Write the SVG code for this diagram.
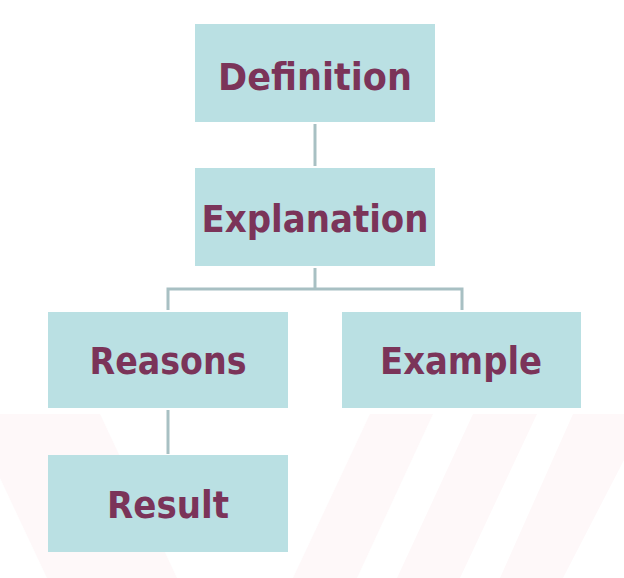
<svg xmlns="http://www.w3.org/2000/svg" width="624" height="578" viewBox="0 0 624 578">
<style>
.bg{fill:#fef8f9}
.box{fill:#bae0e3}
.lbl{font-family:"DejaVu Sans","Liberation Sans",sans-serif;font-weight:bold;font-size:37px;fill:#7b3459;text-anchor:middle}
.con{stroke:#a8c0c3;stroke-width:3;fill:none}
</style>
<rect width="624" height="578" fill="#ffffff"/>
<g id="background">
<polygon class="bg" points="0,414 100,414 177,578 47,578 0,478"/>
<polygon class="bg" points="370,414 433,414 357,578 293,578"/>
<polygon class="bg" points="473,414 537,414 460,578 397,578"/>
<polygon class="bg" points="573,414 624,414 624,460 563,578 500,578"/>
</g>
<g id="connectors">
<line class="con" x1="315" y1="124" x2="315" y2="166"/>
<polyline class="con" points="315,268 315,289"/>
<polyline class="con" points="168,310 168,289 462,289 462,310"/>
<line class="con" x1="168" y1="410" x2="168" y2="454"/>
</g>
<g id="definition">
<rect class="box" x="195" y="24" width="240" height="98"/>
<text class="lbl" x="315" y="90" textLength="194" lengthAdjust="spacingAndGlyphs">Definition</text>
</g>
<g id="explanation">
<rect class="box" x="195" y="168" width="240" height="98"/>
<text class="lbl" x="315" y="232" textLength="227" lengthAdjust="spacingAndGlyphs">Explanation</text>
</g>
<g id="reasons">
<rect class="box" x="48" y="312" width="240" height="96"/>
<text class="lbl" x="168" y="374" textLength="157" lengthAdjust="spacingAndGlyphs">Reasons</text>
</g>
<g id="example">
<rect class="box" x="342" y="312" width="239" height="96"/>
<text class="lbl" x="461" y="374" textLength="162" lengthAdjust="spacingAndGlyphs">Example</text>
</g>
<g id="result">
<rect class="box" x="48" y="455" width="240" height="97"/>
<text class="lbl" x="168" y="518" textLength="122" lengthAdjust="spacingAndGlyphs">Result</text>
</g>
</svg>
